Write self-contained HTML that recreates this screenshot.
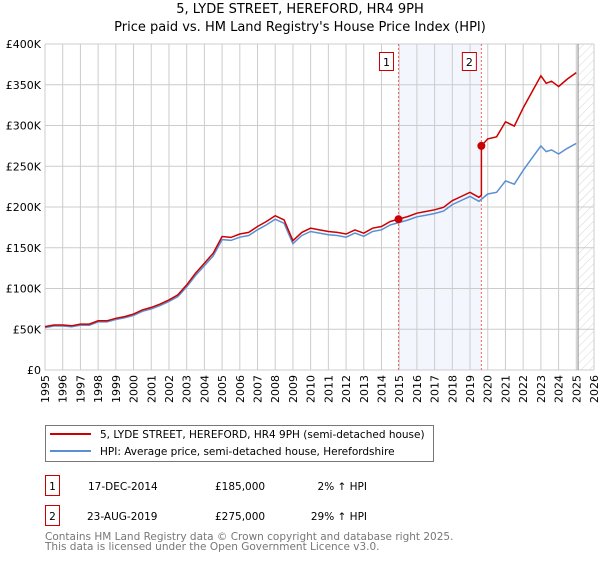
<!DOCTYPE html>
<html><head><meta charset="utf-8"><style>
body{margin:0;background:#fff;font-family:"Liberation Sans","DejaVu Sans",sans-serif}
svg text{font-family:"DejaVu Sans","Liberation Sans",sans-serif}
</style></head><body>
<svg width="600" height="560" viewBox="0 0 600 560">
<defs><pattern id="hatch" width="6" height="6" patternUnits="userSpaceOnUse" patternTransform="rotate(45)"><line x1="0" y1="0" x2="0" y2="6" stroke="#ccc" stroke-width="0.8"/></pattern></defs>
<text x="300" y="13" text-anchor="middle" font-size="13">5, LYDE STREET, HEREFORD, HR4 9PH</text>
<text x="300" y="31" text-anchor="middle" font-size="13">Price paid vs. HM Land Registry's House Price Index (HPI)</text>
<g id="plot"></g>
<g>
<rect x="45.5" y="425.5" width="388" height="36" fill="#fff" stroke="#777"/>
<line x1="50" y1="434" x2="91" y2="434" stroke="#cc0000" stroke-width="2"/>
<text x="100" y="438" font-size="10.5">5, LYDE STREET, HEREFORD, HR4 9PH (semi-detached house)</text>
<line x1="50" y1="451" x2="91" y2="451" stroke="#5b8fd4" stroke-width="2"/>
<text x="100" y="455" font-size="10.5">HPI: Average price, semi-detached house, Herefordshire</text>
</g>
<g font-size="10.5">
<rect x="45.5" y="475.5" width="14" height="20" fill="#fff" stroke="#cc0000"/><text x="52.5" y="490" text-anchor="middle">1</text>
<text x="88" y="490">17-DEC-2014</text><text x="215" y="490">£185,000</text><text x="367" y="490" text-anchor="end">2% ↑ HPI</text>
<rect x="45.5" y="505.5" width="14" height="20" fill="#fff" stroke="#cc0000"/><text x="52.5" y="520" text-anchor="middle">2</text>
<text x="87" y="520">23-AUG-2019</text><text x="215" y="520">£275,000</text><text x="367" y="520" text-anchor="end">29% ↑ HPI</text>
</g>
<text x="45" y="540" font-size="10.5" fill="#777">Contains HM Land Registry data © Crown copyright and database right 2025.</text>
<text x="45" y="550" font-size="10.5" fill="#777">This data is licensed under the Open Government Licence v3.0.</text>
</svg>
<script>
const hpiYears=[1995,1995.5,1996,1996.5,1997,1997.5,1998,1998.5,1999,1999.5,2000,2000.5,2001,2001.5,2002,2002.5,2003,2003.5,2004,2004.5,2005,2005.5,2006,2006.5,2007,2007.5,2008,2008.5,2009,2009.5,2010,2010.5,2011,2011.5,2012,2012.5,2013,2013.5,2014,2014.5,2015,2015.5,2016,2016.5,2017,2017.5,2018,2018.5,2019,2019.5,2020,2020.5,2021,2021.5,2022,2022.5,2023,2023.3,2023.6,2024,2024.5,2025];
const hpiValues=[52,54,54,53,55,55,59,59,62,64,67,72,75,79,84,90,102,116,128,140,160,159,163,165,172,178,185,180,155,165,170,168,166,165,163,168,164,170,172,178,181,184,188,190,192,195,203,208,213,207,216,218,232,228,245,260,275,268,270,265,272,278];
const saleYears=[2014.96,2019.64];
const salePrices=[185,275];
const saleLabels=["1","2"];
const yTicks=[0,50,100,150,200,250,300,350,400];
const yTickLabels=["£0","£50K","£100K","£150K","£200K","£250K","£300K","£350K","£400K"];
const xTicks=[1995,1996,1997,1998,1999,2000,2001,2002,2003,2004,2005,2006,2007,2008,2009,2010,2011,2012,2013,2014,2015,2016,2017,2018,2019,2020,2021,2022,2023,2024,2025,2026];

const L=45,R=594,T=44,B=370,X0=1995,X1=2026,YMAX=400,DATA_END=2025.1;
const xs=y=>L+(y-X0)/(X1-X0)*(R-L);
const ys=v=>B-v/YMAX*(B-T);
const NS='http://www.w3.org/2000/svg';
const g=document.getElementById('plot');
function mk(t,a,p){const e=document.createElementNS(NS,t);for(const k in a)e.setAttribute(k,a[k]);(p||g).appendChild(e);return e;}
function hpiAt(y){for(let i=0;i<hpiYears.length-1;i++){if(y<=hpiYears[i+1]){const f=(y-hpiYears[i])/(hpiYears[i+1]-hpiYears[i]);return hpiValues[i]+f*(hpiValues[i+1]-hpiValues[i]);}}return hpiValues[hpiValues.length-1];}

let e=mk('rect',{x:xs(saleYears[0]),y:T,width:xs(saleYears[1])-xs(saleYears[0]),height:B-T,fill:'#eef2fc',opacity:0.7});

e=mk('rect',{x:xs(DATA_END),y:T,width:R-xs(DATA_END),height:B-T,fill:'url(#hatch)'});

xTicks.forEach((t,i)=>{
 const l=mk('line',{x1:xs(t),x2:xs(t),y1:T,y2:B,stroke:'#ccc','stroke-width':1});
 
 const x=xs(t);
 const tx=mk('text',{x:x+4,y:B+5,'font-size':11,transform:`rotate(-90 ${x+4} ${B+5})`,'text-anchor':'end'});
 tx.textContent=t;
 
});
yTicks.forEach((t,i)=>{
 const l=mk('line',{x1:L,x2:R,y1:ys(t),y2:ys(t),stroke:'#ccc','stroke-width':1});
 
 const tx=mk('text',{x:L-4,y:ys(t)+4,'font-size':11,'text-anchor':'end'});
 tx.textContent=yTickLabels[i];
 
});
e=mk('line',{x1:xs(DATA_END),x2:xs(DATA_END),y1:T,y2:B,stroke:'#888','stroke-width':1});

saleYears.forEach((s,i)=>{
 const l=mk('line',{x1:xs(s),x2:xs(s),y1:T,y2:B,stroke:'#e66','stroke-width':1,'stroke-dasharray':'2,2'});
 
 const r=mk('rect',{x:xs(s)-19,y:52.5,width:14,height:18,fill:'#fff',stroke:'#cc0000'});
 
 const t=mk('text',{x:xs(s)-12,y:66,'font-size':11,'text-anchor':'middle'});t.textContent=saleLabels[i];
 
});
let d=hpiYears.map((y,i)=>(i?'L':'M')+xs(y).toFixed(1)+','+ys(hpiValues[i]).toFixed(1)).join('');
e=mk('path',{d:d,fill:'none',stroke:'#5b8fd4','stroke-width':1.5});

const pts=[];
hpiYears.forEach((y,i)=>{
 if(y>saleYears[0]&&pts.length&&pts[pts.length-1][0]<saleYears[0])pts.push([saleYears[0],salePrices[0]]);
 if(y>saleYears[1]&&pts[pts.length-1][0]<saleYears[1]){const r=salePrices[0]/hpiAt(saleYears[0]);pts.push([saleYears[1],hpiAt(saleYears[1])*r]);pts.push([saleYears[1],salePrices[1]]);}
 let k=0;for(let j=0;j<saleYears.length;j++)if(y>=saleYears[j])k=j;
 const ratio=salePrices[k]/hpiAt(saleYears[k]);
 pts.push([y,hpiValues[i]*ratio]);
});
d=pts.map((p,i)=>(i?'L':'M')+xs(p[0]).toFixed(1)+','+ys(p[1]).toFixed(1)).join('');
e=mk('path',{d:d,fill:'none',stroke:'#cc0000','stroke-width':1.5});

saleYears.forEach((s,i)=>{
 const c=mk('circle',{cx:xs(s),cy:ys(salePrices[i]),r:4,fill:'#cc0000'});
 
});
</script>
</body></html>
